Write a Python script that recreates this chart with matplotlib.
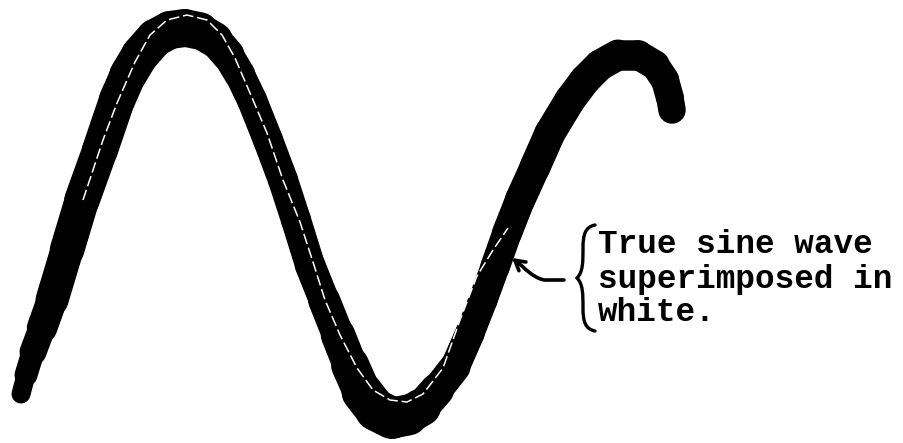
import numpy as np
import matplotlib.pyplot as plt
from matplotlib.collections import LineCollection
from matplotlib.path import Path
from matplotlib.patches import PathPatch, FancyArrowPatch

# traced oscillogram band (centre line, image pixel coords)
trace_x = [21, 26, 33, 42, 52, 67, 82, 100, 117, 128, 140, 155, 170, 185, 200, 215, 228,
           240, 252, 268, 283, 296, 310, 324, 338, 350, 362, 376, 392, 408, 422, 437,
           455, 470, 483, 495, 507, 520, 535, 550, 570, 585, 600, 618, 638, 655, 665,
           670, 672]
trace_y = [394, 375, 352, 328, 300, 250, 200, 150, 100, 75, 55, 38, 30, 28, 31, 40, 55,
           75, 100, 140, 180, 220, 265, 300, 335, 365, 392, 410, 418, 415, 407, 390,
           367, 333, 300, 267, 233, 200, 167, 133, 100, 80, 65, 55, 55, 65, 80,
           98, 110]
# band thickness along the trace, px
trace_w = [17, 21, 25, 29, 32, 34, 35, 36, 36, 37, 38, 38, 38, 38, 37, 34, 32,
           30, 30, 30, 30, 30, 30, 31, 33, 36, 40, 42, 42, 40, 36, 32,
           30, 29, 29, 29, 30, 30, 31, 31, 31, 31, 31, 31, 30, 29, 28,
           28, 27]

# true sine wave drawn in white over the trace
sine_x = [83, 103, 117, 135, 150, 167, 187, 207, 222, 235, 253, 267, 283, 300, 313,
          325, 340, 357, 373, 390, 407, 423, 443, 460, 477, 493, 508]
sine_y = [200, 140, 103, 62, 35, 20, 15, 20, 35, 58, 100, 133, 180, 222, 262,
          300, 335, 368, 390, 400, 402, 394, 368, 320, 276, 250, 228]

label_lines = ['True sine wave', 'superimposed in', 'white.']

fig = plt.figure(figsize=(9.04, 4.43), dpi=100)
ax = fig.add_axes([0, 0, 1, 1])
ax.set_xlim(0, 904)
ax.set_ylim(443, 0)
ax.axis('off')

pts = np.column_stack([trace_x, trace_y])
segs = np.stack([pts[:-1], pts[1:]], axis=1)
w = np.array(trace_w, dtype=float)
lw = (w[:-1] + w[1:]) / 2 * 0.72
band = LineCollection(segs, linewidths=lw, colors='black', capstyle='round', joinstyle='round')
ax.add_collection(band)

ax.plot(sine_x, sine_y, color='white', lw=1.1, dashes=(7, 2.5), zorder=3)

# label
baselines = [253, 288, 321]
for txt, yb in zip(label_lines, baselines):
    ax.text(598, yb, txt, family='Liberation Mono', fontweight='bold', fontsize=23.5,
            va='baseline', ha='left', color='black')

# curly brace
brace = Path([(595, 225), (585, 227), (583, 235), (583, 248),
              (583, 262), (583, 272), (577, 278),
              (583, 284), (583, 294), (583, 308),
              (583, 321), (585, 329), (595, 331)],
             [Path.MOVETO, Path.CURVE4, Path.CURVE4, Path.CURVE4,
              Path.CURVE4, Path.CURVE4, Path.CURVE4,
              Path.CURVE4, Path.CURVE4, Path.CURVE4,
              Path.CURVE4, Path.CURVE4, Path.CURVE4])
ax.add_patch(PathPatch(brace, fill=False, lw=2.4, color='black', capstyle='round'))

# pointer to the white sine
ptr = Path([(564, 280), (548, 280), (540, 281), (530, 274), (522, 266), (512, 258)],
           [Path.MOVETO, Path.LINETO, Path.CURVE4, Path.CURVE4, Path.CURVE4, Path.LINETO])
ax.add_patch(FancyArrowPatch(path=ptr, arrowstyle='->,head_length=7,head_width=4',
                             lw=2.6, color='black', mutation_scale=1))

fig.savefig('out.png', dpi=100)
